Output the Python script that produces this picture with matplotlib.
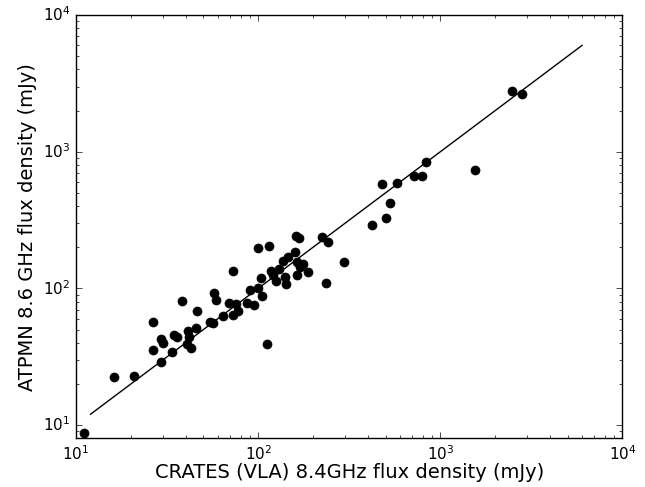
import matplotlib
matplotlib.use('Agg')
import matplotlib.pyplot as plt

# CRATES (VLA) 8.4 GHz vs ATPMN 8.6 GHz flux densities, mJy
crates_8p4 = [11.1, 16.1, 20.9, 26.3, 26.6, 29.3, 29.3, 29.9, 33.6, 34.5,
              35.8, 38.1, 41.0, 41.5, 40.4, 42.7, 46.1, 45.8, 54.3, 56.8,
              57.1, 58.8, 64.4, 69.1, 72.6, 73.1, 75.2, 77.9, 87.3, 90.0,
              95.0, 99.6, 100.0, 104.1, 105.2, 112.3, 114.9, 117.8, 125.6, 130.7,
              137.1, 140.2, 142.8, 145.5, 159.0, 161.4, 167.8, 163.7, 175.9, 169.3,
              188.0, 164.1, 120.8, 222.8, 242.7, 235.2, 295.1, 420.5, 501.7, 532.4,
              481.3, 581.7, 717.5, 790.7, 838.9, 1545, 2465, 2806]
atpmn_8p6 = [8.7, 22.3, 23.0, 56.5, 35.5, 28.9, 42.6, 39.8, 34.2, 45.5,
             44.0, 80.2, 49.1, 44.0, 39.3, 36.7, 68.3, 51.7, 56.7, 56.2,
             91.8, 82.6, 62.4, 78.8, 64.4, 134.6, 77.5, 68.9, 78.8, 97.7,
             76.0, 100.7, 196.1, 119.6, 87.3, 39.1, 203.9, 133.7, 113.3, 137.6,
             157.5, 121.2, 108.1, 168.5, 184.2, 241.0, 234.2, 157.0, 150.8, 142.3,
             131.9, 125.4, 124.3, 237.4, 217.0, 109.9, 154.9, 291.7, 329.4, 421.4,
             580.7, 594.5, 664.8, 664.8, 841.8, 735.6, 2791, 2641]

# one-to-one line
line_range = [12, 6000]

plt.style.use('classic')
fig = plt.figure(figsize=(6.45, 4.87), dpi=100, facecolor='white')
ax = fig.add_axes([0.118, 0.100, 0.847, 0.869])
ax.set_facecolor('white')

ax.plot(crates_8p4, atpmn_8p6, 'ko', markersize=6.5)
ax.plot(line_range, line_range, 'k-', linewidth=1)

ax.set_xscale('log')
ax.set_yscale('log')
ax.set_xlim(10, 1e4)
ax.set_ylim(8, 1e4)

ax.set_xlabel('CRATES (VLA) 8.4GHz flux density (mJy)', fontsize=14, labelpad=0)
ax.set_ylabel('ATPMN 8.6 GHz flux density (mJy)', fontsize=14, labelpad=4)
ax.tick_params(axis='both', which='major', labelsize=11)

fig.savefig('out.png', dpi=100, facecolor='white')
